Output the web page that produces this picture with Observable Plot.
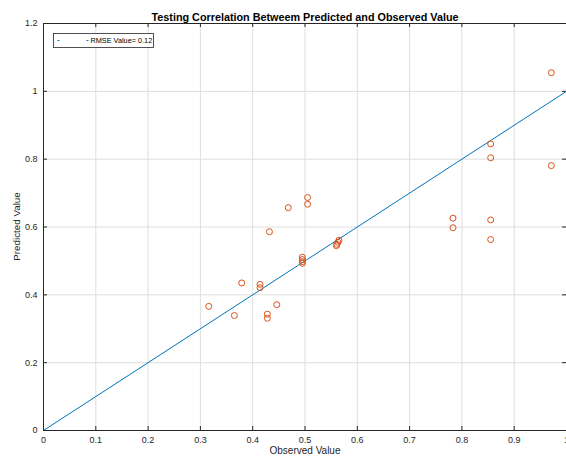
<!DOCTYPE html>
<html>
<head>
<meta charset="utf-8">
<script src="https://cdn.jsdelivr.net/npm/d3@7"></script>
<script src="https://cdn.jsdelivr.net/npm/@observablehq/plot@0.6"></script>
<style>
  html, body { margin: 0; padding: 0; background: #fff; }
  #chart svg { display: block; }
</style>
</head>
<body>
<div id="chart"></div>
<script>
// Test-set predictions: observed vs. predicted value
const observed = [
  0.316, 0.365, 0.379, 0.414, 0.414, 0.428, 0.428, 0.432, 0.446, 0.468,
  0.495, 0.495, 0.495, 0.495, 0.505, 0.505, 0.561, 0.563, 0.565, 0.560,
  0.783, 0.783, 0.855, 0.855, 0.855, 0.855, 0.971, 0.971
];
const predicted = [
  0.366, 0.339, 0.435, 0.431, 0.421, 0.343, 0.331, 0.586, 0.371, 0.657,
  0.511, 0.504, 0.498, 0.493, 0.687, 0.667, 0.549, 0.555, 0.561, 0.545,
  0.626, 0.598, 0.845, 0.804, 0.621, 0.563, 1.055, 0.781
];

// Ideal-fit reference line (predicted = observed)
const fitX = [0, 1];
const fitY = [0, 1];

const xTicks = [0, 0.1, 0.2, 0.3, 0.4, 0.5, 0.6, 0.7, 0.8, 0.9, 1];
const yTicks = [0, 0.2, 0.4, 0.6, 0.8, 1, 1.2];

const titleText = "Testing Correlation Betweem Predicted and Observed Value";
const xLabel = "Observed Value";
const yLabel = "Predicted Value";
const legendLabel = "RMSE Value= 0.12";

const points = observed.map((x, i) => ({x, y: predicted[i]}));
const fit = fitX.map((x, i) => ({x, y: fitY[i]}));

const W = 566, H = 456;
const mL = 43, mR = 0, mT = 23, mB = 26;
const plotH = H - mT - mB;
const plotW = W - mL - mR;
const ink = "#262626";
const font = "'Liberation Sans', Arial, sans-serif";

const chart = Plot.plot({
  width: W,
  height: H,
  marginLeft: mL,
  marginRight: mR,
  marginTop: mT,
  marginBottom: mB,
  style: {fontFamily: font, fontSize: "9px", color: ink, background: "#fff", overflow: "visible"},
  x: {domain: [0, 1], ticks: xTicks, tickFormat: d => String(d)},
  y: {domain: [0, 1.2], ticks: yTicks, tickFormat: d => String(d)},
  marks: [
    Plot.gridX(xTicks, {stroke: "#dedede", strokeOpacity: 1}),
    Plot.gridY(yTicks, {stroke: "#dedede", strokeOpacity: 1}),
    Plot.axisX(xTicks, {tickSize: 0, tickPadding: 6, label: null, fill: ink, tickFormat: d => String(d)}),
    Plot.axisY(yTicks, {tickSize: 0, tickPadding: 6, label: null, fill: ink, tickFormat: d => String(d)}),
    // inward ticks on all four sides
    Plot.tickX(xTicks, {x: d => d, stroke: ink, insetTop: plotH - 4}),
    Plot.tickX(xTicks, {x: d => d, stroke: ink, insetBottom: plotH - 4}),
    Plot.tickY(yTicks, {y: d => d, stroke: ink, insetRight: plotW - 4}),
    Plot.tickY(yTicks, {y: d => d, stroke: ink, insetLeft: plotW - 4}),
    Plot.line(fit, {x: "x", y: "y", stroke: "#0072BD", strokeWidth: 1}),
    Plot.dot(points, {x: "x", y: "y", r: 3, stroke: "#D95319", strokeWidth: 1, fill: "none"}),
    Plot.frame({stroke: ink, strokeWidth: 1}),
    Plot.text([titleText], {frameAnchor: "top", dy: -10, fontWeight: "bold", fontSize: 10.8, fill: "#000"}),
    Plot.text([xLabel], {frameAnchor: "bottom", dy: 23, fontSize: 10, fill: ink})
  ]
});

document.getElementById("chart").append(chart);

const svg = d3.select(chart);

// Rotated y-axis title, centred on the plot area
svg.append("text")
  .attr("transform", `translate(17,${mT + plotH / 2}) rotate(-90)`)
  .attr("text-anchor", "middle").attr("dy", "0.35em")
  .attr("font-size", 9.8).attr("fill", ink).attr("font-family", font)
  .text(yLabel);

// Legend box in the upper-left corner of the axes
const lg = svg.append("g").attr("transform", "translate(53.5,33.5)");
lg.append("rect").attr("width", 100).attr("height", 14)
  .attr("fill", "#fff").attr("stroke", ink).attr("stroke-width", 0.8);
lg.append("line").attr("x1", 4).attr("x2", 6).attr("y1", 7).attr("y2", 7)
  .attr("stroke", "#0072BD").attr("stroke-width", 1);
lg.append("line").attr("x1", 33).attr("x2", 35).attr("y1", 7).attr("y2", 7)
  .attr("stroke", "#0072BD").attr("stroke-width", 1);
lg.append("text").attr("x", 37).attr("y", 7).attr("dy", "0.35em")
  .attr("text-anchor", "start")
  .attr("font-size", 7.3).attr("fill", "#000").attr("font-family", font)
  .text(legendLabel);
</script>
</body>
</html>
